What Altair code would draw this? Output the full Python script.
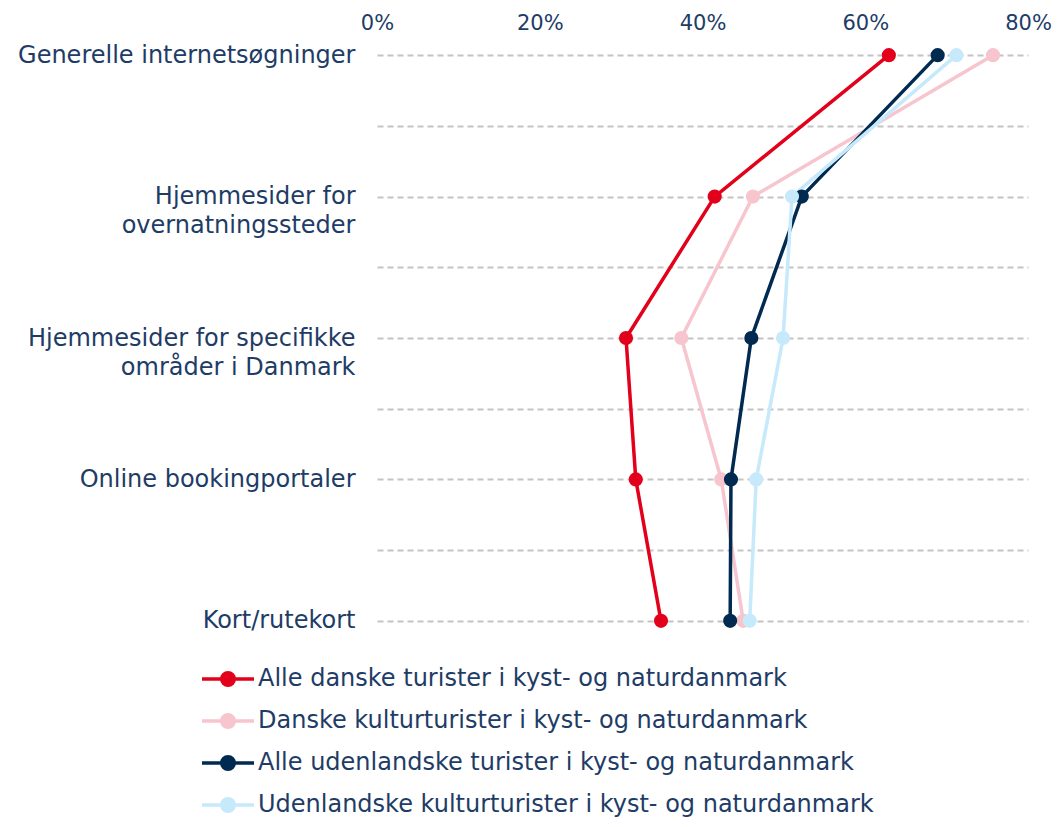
import json
import altair as alt
import pandas as pd

categories = [
    "Generelle internetsøgninger",
    "Hjemmesider for|overnatningssteder",
    "Hjemmesider for specifikke|områder i Danmark",
    "Online bookingportaler",
    "Kort/rutekort",
]
series = [
    "Alle danske turister i kyst- og naturdanmark",
    "Danske kulturturister i kyst- og naturdanmark",
    "Alle udenlandske turister i kyst- og naturdanmark",
    "Udenlandske kulturturister i kyst- og naturdanmark",
]
alle_danske = [62.9, 41.5, 30.6, 31.8, 34.9]
danske_kultur = [75.7, 46.2, 37.4, 42.3, 45.0]
alle_udenlandske = [68.9, 52.2, 46.0, 43.5, 43.4]
udenlandske_kultur = [71.2, 51.0, 49.9, 46.6, 45.8]
x_ticks = [0, 20, 40, 60, 80]
colors = ["#E2001A", "#F7C5CD", "#002A50", "#C6E9FB"]

values = [alle_danske, danske_kultur, alle_udenlandske, udenlandske_kultur]
rows = []
for s, vals in zip(series, values):
    for i, v in enumerate(vals):
        rows.append({"serie": s, "idx": i, "value": v})
df = pd.DataFrame(rows)

FONT = "DejaVu Sans"
TXT = "#1E3C66"

y_label_expr = (
    "datum.value % 1 == 0 ? split(" + json.dumps(categories, ensure_ascii=False)
    + "[datum.value], '|') : ''"
)


def circ(r):
    return f"M{-r},0A{r},{r},0,1,0,{r},0A{r},{r},0,1,0,{-r},0"


legend_path = "M-2.6,0H2.6" + circ(0.625) + circ(0.35) + circ(0.1)

chart = (
    alt.Chart(df)
    .mark_line(strokeWidth=3.5, point=alt.OverlayMarkDef(filled=True, size=200, opacity=1))
    .encode(
        x=alt.X(
            "value:Q",
            scale=alt.Scale(domain=[0, 80], nice=False, zero=True),
            axis=alt.Axis(
                orient="top", values=x_ticks, labelExpr="datum.value + '%'",
                grid=False, domain=False, ticks=False, tickSize=0, labelPadding=8,
                labelFlush=False, labelFont=FONT, labelFontSize=21, labelColor=TXT,
                title=None,
            ),
        ),
        y=alt.Y(
            "idx:Q",
            scale=alt.Scale(domain=[-0.1, 4.1], reverse=True, nice=False, zero=False),
            axis=alt.Axis(
                values=[0, 0.5, 1, 1.5, 2, 2.5, 3, 3.5, 4], labelExpr=y_label_expr,
                grid=True, gridColor="#C4C4C4", gridDash=[6, 4], gridWidth=1.8,
                domain=False, ticks=False, tickSize=0, labelPadding=22,
                labelFont=FONT, labelFontSize=24, labelColor=TXT, labelLineHeight=29,
                labelBaseline="middle", labelLimit=500, title=None,
            ),
        ),
        color=alt.Color(
            "serie:N",
            scale=alt.Scale(domain=series, range=colors),
            legend=alt.Legend(
                orient="none", legendX=-161, legendY=626, direction="vertical",
                title=None, symbolType=legend_path, symbolSize=400,
                symbolStrokeWidth=3.5, symbolOpacity=1, labelFont=FONT,
                labelFontSize=24, labelColor=TXT, labelOffset=18, rowPadding=14,
                padding=0, labelLimit=800,
            ),
        ),
        order=alt.Order("idx:Q"),
    )
    .properties(
        width=651, height=594,
        padding={"left": 369, "top": 33, "right": 25, "bottom": 184},
        autosize=alt.AutoSizeParams(type="none"),
    )
    .configure_view(stroke=None)
)

chart.save("out.html", embed_options={"renderer": "svg", "actions": False})
